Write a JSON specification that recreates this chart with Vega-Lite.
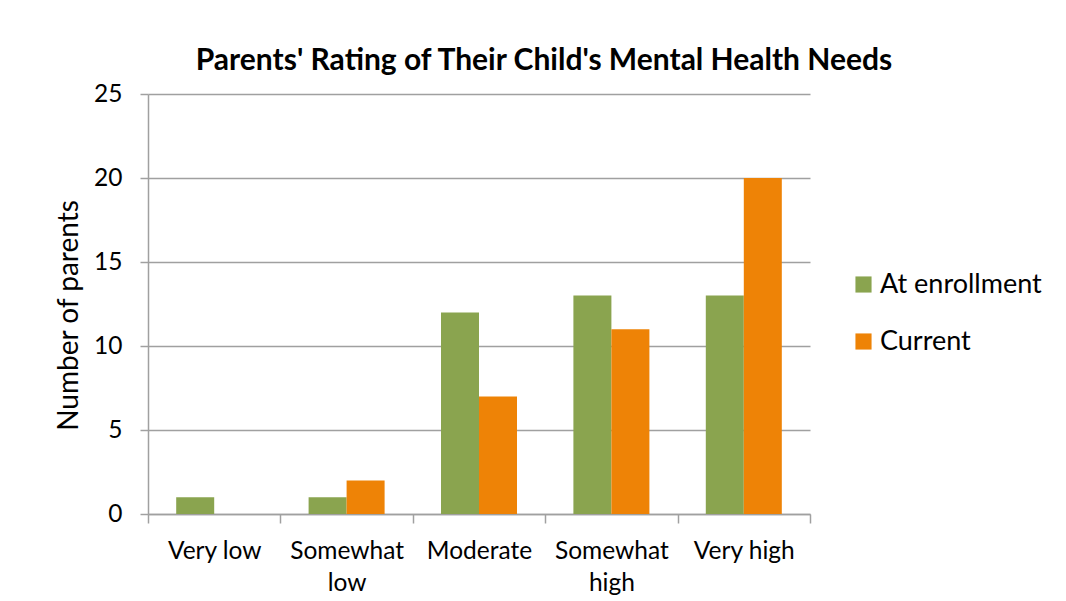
{
  "$schema": "https://vega.github.io/schema/vega-lite/v6.json",
  "autosize": "none",
  "width": 662,
  "height": 420,
  "padding": {"left": 148, "top": 94, "right": 256, "bottom": 87},
  "background": "white",
  "config": {
    "font": "Lato",
    "view": {"stroke": null}
  },
  "title": {
    "text": "Parents' Rating of Their Child's Mental Health Needs",
    "font": "Lato",
    "fontSize": 30,
    "fontWeight": "bold",
    "color": "#000000",
    "anchor": "middle",
    "dx": 65,
    "offset": 5
  },
  "data": {
    "values": [
      {"rating": "Very low", "series": "At enrollment", "count": 1},
      {"rating": "Very low", "series": "Current", "count": 0},
      {"rating": "Somewhat low", "series": "At enrollment", "count": 1},
      {"rating": "Somewhat low", "series": "Current", "count": 2},
      {"rating": "Moderate", "series": "At enrollment", "count": 12},
      {"rating": "Moderate", "series": "Current", "count": 7},
      {"rating": "Somewhat high", "series": "At enrollment", "count": 13},
      {"rating": "Somewhat high", "series": "Current", "count": 11},
      {"rating": "Very high", "series": "At enrollment", "count": 13},
      {"rating": "Very high", "series": "Current", "count": 20}
    ]
  },
  "mark": {"type": "bar"},
  "encoding": {
    "x": {
      "field": "rating",
      "type": "nominal",
      "sort": ["Very low", "Somewhat low", "Moderate", "Somewhat high", "Very high"],
      "scale": {"paddingInner": 0, "paddingOuter": 0},
      "axis": {
        "title": null,
        "labelAngle": 0,
        "labelFontSize": 24.5,
        "labelColor": "#000000",
        "labelPadding": 16,
        "labelLineHeight": 32,
        "labelExpr": "datum.value == 'Somewhat low' ? ['Somewhat','low'] : datum.value == 'Somewhat high' ? ['Somewhat','high'] : datum.value",
        "domainColor": "#A0A0A0",
        "domainWidth": 1.5,
        "ticks": true,
        "tickBand": "extent",
        "tickSize": 9,
        "tickColor": "#A0A0A0",
        "tickWidth": 1.5,
        "grid": false
      }
    },
    "xOffset": {
      "field": "series",
      "type": "nominal",
      "sort": ["At enrollment", "Current"],
      "scale": {"paddingInner": 0, "paddingOuter": 0.742}
    },
    "y": {
      "field": "count",
      "type": "quantitative",
      "scale": {"domain": [0, 25]},
      "axis": {
        "title": "Number of parents",
        "titleFontSize": 28,
        "titleFontWeight": "normal",
        "titleColor": "#000000",
        "titlePadding": 10,
        "titleY": 221,
        "values": [0, 5, 10, 15, 20, 25],
        "labelFontSize": 24.5,
        "labelColor": "#000000",
        "labelPadding": 18,
        "tickSize": 8,
        "tickColor": "#A0A0A0",
        "tickWidth": 1.5,
        "domainColor": "#A0A0A0",
        "domainWidth": 1.5,
        "gridColor": "#A0A0A0",
        "gridWidth": 1.5
      }
    },
    "color": {
      "field": "series",
      "type": "nominal",
      "scale": {"domain": ["At enrollment", "Current"], "range": ["#8AA44F", "#EE8306"]},
      "legend": {
        "title": null,
        "orient": "none",
        "legendX": 702,
        "legendY": 177,
        "symbolType": "square",
        "symbolSize": 260,
        "symbolStrokeWidth": 0,
        "labelFontSize": 27,
        "labelColor": "#000000",
        "labelOffset": 3,
        "labelLimit": 400,
        "rowPadding": 29
      }
    }
  }
}
